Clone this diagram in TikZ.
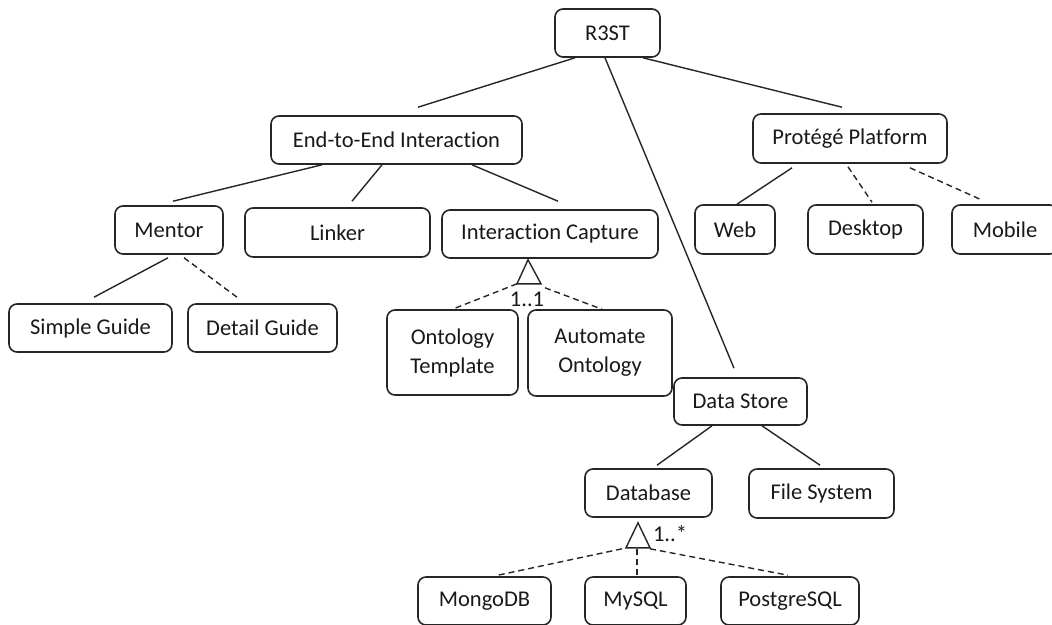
\documentclass[tikz,border=0pt]{standalone}
\usepackage{fontspec}
\setmainfont{Carlito}[Ligatures=NoCommon]
\usetikzlibrary{calc}
\begin{document}
\begin{tikzpicture}[x=1pt,y=-1pt,
  box/.style={draw=black!85, line width=1.6pt, rounded corners=8pt, inner sep=0pt,
    align=center, font=\fontsize{22.5}{29}\selectfont, text=black!90},
  conn/.style={draw=black!85, line width=1.4pt},
  dconn/.style={conn, dash pattern=on 6pt off 4pt},
  lab/.style={font=\fontsize{22.5}{26}\selectfont, inner sep=0pt, text=black!90}]
\useasboundingbox (0,0) rectangle (1052,624);
\clip (0,0) rectangle (1052,624);
\fill[white] (0,0) rectangle (1052,624);
% nodes
\node[box, minimum width=105pt, minimum height=48pt] (R) at (607.5,33) {R3ST};
\node[box, minimum width=251pt, minimum height=48pt] (E) at (396.5,140) {End-to-End Interaction};
\node[box, minimum width=108pt, minimum height=48pt] (M) at (169,230) {Mentor};
\node[box, minimum width=185pt, minimum height=49pt] (L) at (337.5,232.5) {Linker};
\node[box, minimum width=216pt, minimum height=48pt] (IC) at (550,234) {Interaction Capture};
\node[box, minimum width=163pt, minimum height=48pt] (SG) at (90.5,328) {Simple Guide};
\node[box, minimum width=149pt, minimum height=48pt] (DG) at (262.5,328) {Detail Guide};
\node[box, minimum width=131pt, minimum height=85pt] (OT) at (452.5,352.5) {Ontology\\Template};
\node[box, minimum width=144pt, minimum height=86pt] (AO) at (600,353) {Automate\\Ontology};
\node[box, minimum width=194pt, minimum height=49pt] (P) at (850,138.5) {Protégé Platform};
\node[box, minimum width=80pt, minimum height=49pt] (W) at (735,229.5) {Web};
\node[box, minimum width=115pt, minimum height=49pt] (D) at (865.5,229.5) {Desktop};
\node[box, minimum width=106pt, minimum height=49pt] (Mo) at (1005,229.5) {Mobile};
\node[box, minimum width=133pt, minimum height=47pt] (DS) at (740.5,401.5) {Data Store};
\node[box, minimum width=127pt, minimum height=48pt] (DB) at (648.5,493) {Database};
\node[box, minimum width=145pt, minimum height=49pt] (FS) at (821.5,493.5) {File System};
\node[box, minimum width=133pt, minimum height=48pt] (MG) at (484.5,601) {MongoDB};
\node[box, minimum width=101pt, minimum height=48pt] (MY) at (635.5,601) {MySQL};
\node[box, minimum width=138pt, minimum height=48pt] (PG) at (790,601) {PostgreSQL};
% connectors from R3ST
\draw[conn] ($(R.south)+(-32.5,0)$) -- ($(E.north)+(21.5,-8)$);
\draw[conn] ($(R.south)+(-2.5,0)$) -- ($(DS.north)+(-6.5,-9)$);
\draw[conn] ($(R.south)+(35.5,0)$) -- ($(P.north)+(-8,-6)$);
% End-to-End
\draw[conn] ($(E.south)+(-74.5,0)$) -- ($(M.north)+(4,-4)$);
\draw[conn] ($(E.south)+(-14.5,0)$) -- ($(L.north)+(14.5,-6)$);
\draw[conn] ($(E.south)+(75.5,0)$) -- ($(IC.north)+(8,-8)$);
% Mentor
\draw[conn] ($(M.south)+(-1,3)$) -- ($(SG.north)+(3.5,-6)$);
\draw[dconn] ($(M.south)+(15,3)$) -- ($(DG.north)+(-25.5,-6)$);
% Interaction Capture group
\coordinate (ta) at ($(IC.south)+(-22,1)$);
\coordinate (tl) at ($(IC.south)+(-33,25)$);
\coordinate (tr) at ($(IC.south)+(-9,25)$);
\draw[conn, line join=miter] (tl) -- (ta) -- (tr) -- cycle;
\draw[dconn] (tl) -- ($(OT.north)+(0,0)$);
\draw[dconn] ($(tr)+(4,4)$) -- ($(AO.north)+(2,0)$);
\node[lab] (l11) at (527,299) {1..1};
% Protege
\draw[conn] ($(P.south)+(-58,4)$) -- ($(W.north)+(2,0)$);
\draw[dconn] ($(P.south)+(-2,3)$) -- ($(D.north)+(6.5,-2)$);
\draw[dconn] ($(P.south)+(60,4)$) -- ($(Mo.north)+(-25,-5)$);
% Data Store
\draw[conn] ($(DS.south)+(-28.5,0)$) -- ($(DB.north)+(8.5,-3)$);
\draw[conn] ($(DS.south)+(21.5,0)$) -- ($(FS.north)+(-1.5,-3)$);
% Database group
\coordinate (da) at ($(DB.south)+(-10.5,5)$);
\coordinate (dl) at ($(DB.south)+(-22.5,30)$);
\coordinate (dr) at ($(DB.south)+(1.5,30)$);
\draw[conn, line join=miter] (dl) -- (da) -- (dr) -- cycle;
\draw[dconn] ($(dl)+(-4,1)$) -- ($(MG.north)+(13.5,-1)$);
\draw[dconn] ($(da)+(-1,26)$) -- ($(MY.north)+(1.5,-1)$);
\draw[dconn] ($(dr)+(0,1)$) -- ($(PG.north)+(-2,-1)$);
\node[lab] (l1s) at (670,534) {1..*};
\end{tikzpicture}
\end{document}
